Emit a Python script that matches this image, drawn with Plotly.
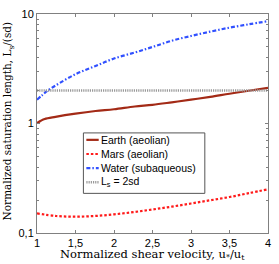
import plotly.graph_objects as go

# Data
x_earth = [1.0, 1.05, 1.1, 1.24, 1.5, 1.76, 2.0, 2.27, 2.5, 2.75, 3.0, 3.25, 3.5, 3.75, 4.0]
y_earth = [1.01, 1.06, 1.10, 1.15, 1.23, 1.30, 1.35, 1.43, 1.48, 1.56, 1.65, 1.75, 1.87, 1.99, 2.12]

x_mars = [1.0, 1.25, 1.5, 1.75, 2.0, 2.25, 2.5, 2.75, 3.0, 3.25, 3.5, 3.75, 4.0]
y_mars = [0.151, 0.143, 0.141, 0.143, 0.148, 0.155, 0.164, 0.174, 0.186, 0.199, 0.213, 0.231, 0.251]

x_water = [1.0, 1.07, 1.14, 1.24, 1.5, 1.76, 2.0, 2.27, 2.5, 2.75, 3.0, 3.25, 3.5, 3.75, 4.0]
y_water = [1.65, 1.82, 2.0, 2.22, 2.82, 3.35, 3.92, 4.45, 5.0, 5.7, 6.3, 6.9, 7.5, 8.05, 8.6]

x_ls = [1.0, 4.0]
y_ls = [2.0, 2.0]

series_names = ["Earth (aeolian)", "Mars (aeolian)", "Water (subaqueous)", "L<sub>s</sub> = 2sd"]

x_tickvals = [1, 1.5, 2, 2.5, 3, 3.5, 4]
x_ticktext = ["1", "1,5", "2", "2,5", "3", "3,5", "4"]
y_tickvals = [0.1, 1, 10]
y_ticktext = ["0,1", "1", "10"]
y_minor = [0.2, 0.3, 0.4, 0.5, 0.6, 0.7, 0.8, 0.9, 2, 3, 4, 5, 6, 7, 8, 9]

styles = [
    dict(color="#a32a16", width=2.2, dash="solid"),
    dict(color="#ff1a1a", width=2.2, dash="2.5px,2px"),
    dict(color="#3050ff", width=2.2, dash="4px,2px,1.5px,2px"),
    dict(color="#999999", width=2.4, dash="1.2px,1px"),
]

fig = go.Figure()
for xs, ys, name, st in zip([x_earth, x_mars, x_water, x_ls],
                            [y_earth, y_mars, y_water, y_ls], series_names, styles):
    fig.add_trace(go.Scatter(x=xs, y=ys, mode="lines", name=name, showlegend=False,
                             line=dict(shape="spline", **st)))

# Plot-area geometry in pixels (for the hand-drawn legend box)
L, R, T, B = 37, 271, 12, 233
def px(x):
    return (x - L) / (R - L)
def py(y):
    return 1 - (y - T) / (B - T)

tick_font = dict(family="Liberation Sans, Arial, sans-serif", size=11, color="black")
title_font_family = "DejaVu Serif, Liberation Serif, serif"

shapes = [dict(type="rect", xref="paper", yref="paper",
               x0=px(84), x1=px(207), y0=py(193), y1=py(132),
               line=dict(color="#555555", width=1), fillcolor="white", layer="above")]
annotations = []
row_y = [139, 153.3, 167.6, 181.8]
for ry, name, st in zip(row_y, series_names, styles):
    shapes.append(dict(type="line", xref="paper", yref="paper",
                       x0=px(87), x1=px(99.5), y0=py(ry), y1=py(ry), layer="above",
                       line=dict(color=st["color"], width=st["width"], dash=st["dash"])))
    annotations.append(dict(xref="paper", yref="paper", x=px(100), y=py(ry),
                            xanchor="left", yanchor="middle", showarrow=False,
                            text=name, font=dict(family="Liberation Sans, Arial, sans-serif",
                                                 size=10.5, color="black")))

annotations.append(dict(xref="paper", yref="paper", x=px(154), y=py(255),
                        xanchor="center", yanchor="middle", showarrow=False,
                        text="Normalized shear velocity, u<sub>*</sub>/u<sub>t</sub>",
                        font=dict(family=title_font_family, size=11.5, color="black")))
annotations.append(dict(xref="paper", yref="paper", x=px(8), y=py(120),
                        xanchor="center", yanchor="middle", showarrow=False, textangle=-90,
                        text="Normalized saturation length, L<sub>s</sub>/(sd)",
                        font=dict(family=title_font_family, size=10.5, color="black")))

axis_common = dict(
    showgrid=False, zeroline=False, showline=True, linecolor="#808080", linewidth=1,
    mirror="allticks", ticks="inside", ticklen=3, tickcolor="#808080",
    tickfont=tick_font,
)

fig.update_layout(
    width=279, height=264,
    margin=dict(l=L, r=279 - R, t=T, b=264 - B),
    paper_bgcolor="white", plot_bgcolor="white",
    showlegend=False,
    shapes=shapes, annotations=annotations,
    xaxis=dict(range=[1, 4], tickmode="array", tickvals=x_tickvals, ticktext=x_ticktext,
               ticklabelstandoff=0, **axis_common),
    yaxis=dict(type="log", range=[-1, 1], tickvals=y_tickvals, ticktext=y_ticktext,
               minor=dict(tickvals=y_minor, ticks="inside", ticklen=2, tickcolor="#808080"),
               **axis_common),
)

fig.write_html("out.html", config={"displayModeBar": False},
               post_script="document.body.style.margin='0';document.body.style.overflow='hidden';")
